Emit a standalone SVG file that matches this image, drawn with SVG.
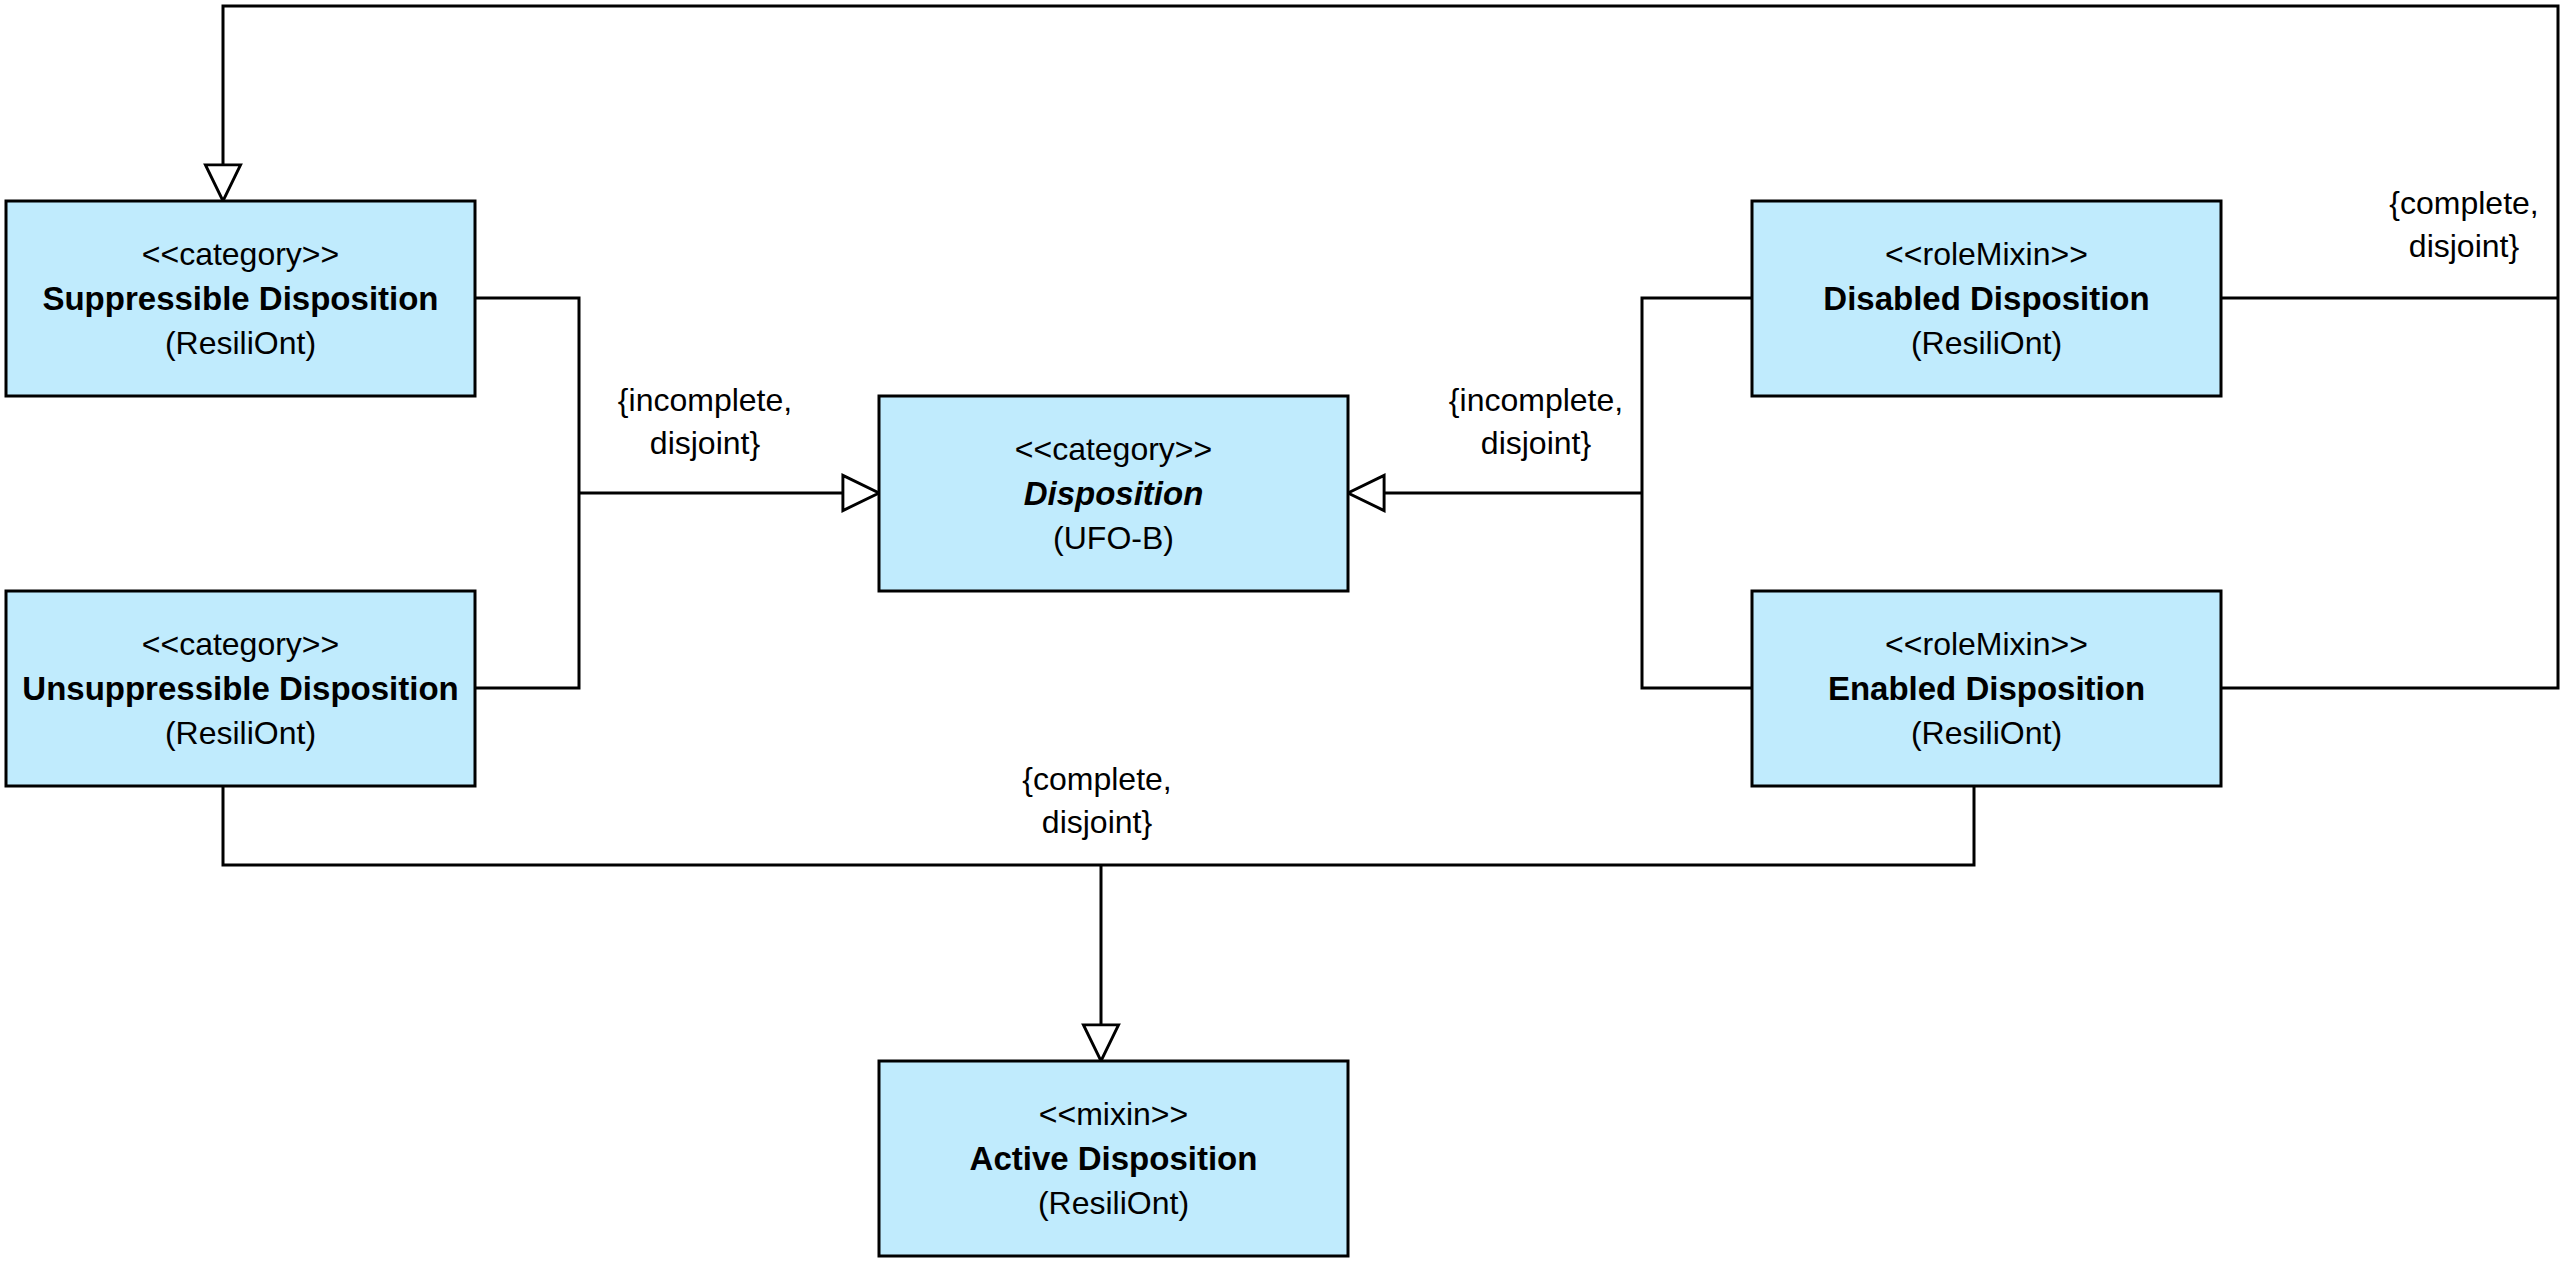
<svg xmlns="http://www.w3.org/2000/svg" width="2574" height="1269" viewBox="0 0 2574 1269">
  <style>
    .box { fill: #C0EBFD; stroke: #000; stroke-width: 3; }
    .t { font-family: "Liberation Sans", Arial, sans-serif; font-size: 32px; fill: #000; text-anchor: middle; }
    .b { font-weight: bold; font-size: 33px; }
    .bi { font-weight: bold; font-style: italic; font-size: 33px; }
    .ln { fill: none; stroke: #000; stroke-width: 3; }
    .ah { marker-end: url(#gen); }
  </style>
  <defs>
    <marker id="gen" markerUnits="userSpaceOnUse" markerWidth="40" markerHeight="40" viewBox="-2 -2 41 40" refX="37" refY="18" orient="auto" overflow="visible">
      <path d="M0,0 L37,18 L0,36 Z" fill="#fff" stroke="#000" stroke-width="3" stroke-linejoin="miter"/>
    </marker>
  </defs>
  <rect width="2574" height="1269" fill="#fff"/>

  <g id="connectors">
    <path class="ln" d="M475 298 H579 V688 H475"/>
    <path class="ln ah" d="M579 493 H879"/>
    <path class="ln" d="M1752 298 H1642 V688 H1752"/>
    <path class="ln ah" d="M1642 493 H1348"/>
    <path class="ln" d="M2221 298 H2558"/>
    <path class="ln ah" d="M2221 688 H2558 V6 H223 V201"/>
    <path class="ln" d="M223 786 V865 H1974 V786"/>
    <path class="ln ah" d="M1101 865 V1061"/>
    <text class="t" x="705" y="411">{incomplete,</text>
    <text class="t" x="705" y="454">disjoint}</text>
    <text class="t" x="1536" y="411">{incomplete,</text>
    <text class="t" x="1536" y="454">disjoint}</text>
    <text class="t" x="2464" y="214">{complete,</text>
    <text class="t" x="2464" y="257">disjoint}</text>
    <text class="t" x="1097" y="790">{complete,</text>
    <text class="t" x="1097" y="833">disjoint}</text>
  </g>

  <g id="suppressible">
    <rect class="box" x="6" y="201" width="469" height="195"/>
    <text class="t" x="240.5" y="265">&lt;&lt;category&gt;&gt;</text>
    <text class="t b" x="240.5" y="309.5">Suppressible Disposition</text>
    <text class="t" x="240.5" y="354">(ResiliOnt)</text>
  </g>
  <g id="unsuppressible">
    <rect class="box" x="6" y="591" width="469" height="195"/>
    <text class="t" x="240.5" y="655">&lt;&lt;category&gt;&gt;</text>
    <text class="t b" x="240.5" y="699.5">Unsuppressible Disposition</text>
    <text class="t" x="240.5" y="744">(ResiliOnt)</text>
  </g>
  <g id="disposition">
    <rect class="box" x="879" y="396" width="469" height="195"/>
    <text class="t" x="1113.5" y="460">&lt;&lt;category&gt;&gt;</text>
    <text class="t bi" x="1113.5" y="504.5">Disposition</text>
    <text class="t" x="1113.5" y="549">(UFO-B)</text>
  </g>
  <g id="disabled">
    <rect class="box" x="1752" y="201" width="469" height="195"/>
    <text class="t" x="1986.5" y="265">&lt;&lt;roleMixin&gt;&gt;</text>
    <text class="t b" x="1986.5" y="309.5">Disabled Disposition</text>
    <text class="t" x="1986.5" y="354">(ResiliOnt)</text>
  </g>
  <g id="enabled">
    <rect class="box" x="1752" y="591" width="469" height="195"/>
    <text class="t" x="1986.5" y="655">&lt;&lt;roleMixin&gt;&gt;</text>
    <text class="t b" x="1986.5" y="699.5">Enabled Disposition</text>
    <text class="t" x="1986.5" y="744">(ResiliOnt)</text>
  </g>
  <g id="active">
    <rect class="box" x="879" y="1061" width="469" height="195"/>
    <text class="t" x="1113.5" y="1125">&lt;&lt;mixin&gt;&gt;</text>
    <text class="t b" x="1113.5" y="1169.5">Active Disposition</text>
    <text class="t" x="1113.5" y="1214">(ResiliOnt)</text>
  </g>
</svg>
